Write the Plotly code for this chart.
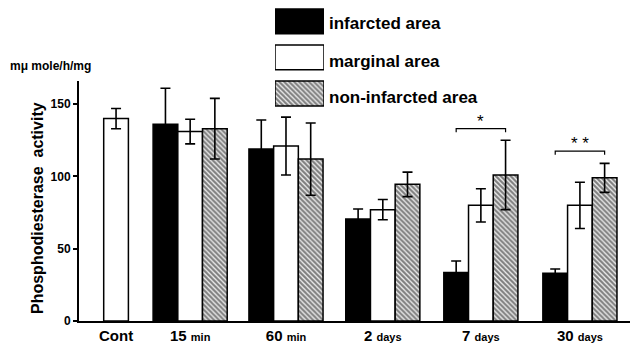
import plotly.graph_objects as go

# ---- data ----
groups = ["Cont", "15 min", "60 min", "2 days", "7 days", "30 days"]
tick_labels = [
    "<b>Cont</b>",
    "<b>15 <span style='font-size:11px'>min</span></b>",
    "<b>60 <span style='font-size:11px'>min</span></b>",
    "<b>2 <span style='font-size:11px'>days</span></b>",
    "<b>7 <span style='font-size:11px'>days</span></b>",
    "<b>30 <span style='font-size:11px'>days</span></b>",
]
infarcted = [None, 136, 119, 70.5, 33.5, 33]
infarcted_err = [None, 25, 20, 7, 8, 3]
marginal = [140, 131, 121, 77, 80, 80]
marginal_err = [7, 8.5, 20, 7, 11.5, 16]
noninfarcted = [None, 133, 112, 94.5, 101, 99]
noninfarcted_err = [None, 21, 25, 8.5, 24, 10]

series_names = ["infarcted area", "marginal area", "non-infarcted area"]

sig_groups = ["7 days", "30 days"]
sig_labels = ["*", "* *"]
sig_levels = [133, 117.5]

# ---- layout helpers (positions, not data) ----
group_pos = [1.5, 4.5, 8.38, 12.3, 16.27, 20.28]
BAR_W = 1.0
W, H = 630, 347
L, B = 79, 26
PLOT_W = W - L
PLOT_H = H - B


def px_x(px):
    return (px - L) / PLOT_W


def px_y(py):
    return (PLOT_H - py) / PLOT_H


FONT = "Liberation Sans, Arial, sans-serif"
hatch = dict(shape="\\", fgcolor="black", bgcolor="white", size=3.5, solidity=0.65)
styles = [
    dict(color="black", line=dict(color="black", width=1.5)),
    dict(color="white", line=dict(color="black", width=1.5)),
    dict(color="white", pattern=hatch, line=dict(color="black", width=1.5)),
]

fig = go.Figure()
values = [infarcted, marginal, noninfarcted]
errors = [infarcted_err, marginal_err, noninfarcted_err]
for i, (name, vals, errs, st) in enumerate(zip(series_names, values, errors, styles)):
    xs = [p + (i - 1) * BAR_W for p in group_pos]
    fig.add_trace(go.Bar(
        x=xs, y=vals, width=BAR_W, name=name, marker=st,
        error_y=dict(type="data", array=errs, visible=True, color="black",
                     thickness=1.6, width=5),
        showlegend=False, xaxis="x", yaxis="y",
    ))

# significance brackets
for g, lab, lvl in zip(sig_groups, sig_labels, sig_levels):
    c = group_pos[groups.index(g)]
    fig.add_trace(go.Scatter(
        x=[c - BAR_W, c - BAR_W, c + BAR_W, c + BAR_W],
        y=[lvl - 2.5, lvl, lvl, lvl - 2.5],
        mode="lines", line=dict(color="black", width=1.2),
        showlegend=False, hoverinfo="skip",
    ))
    fig.add_annotation(x=c, y=lvl - 3, text=lab, showarrow=False,
                       xref="x", yref="y", yanchor="bottom",
                       font=dict(family=FONT, size=17, color="black"))

# legend boxes drawn as bars on an auxiliary axis
for i, (name, st) in enumerate(zip(series_names, styles)):
    fig.add_trace(go.Bar(
        x=[1], y=[i], orientation="h", width=0.69, marker=st,
        xaxis="x2", yaxis="y2", showlegend=False, hoverinfo="skip",
    ))
    fig.add_annotation(
        x=px_x(327), y=px_y([23, 61, 97][i]), xref="paper", yref="paper",
        text="<b>" + name + "</b>", showarrow=False, xanchor="left", yanchor="middle",
        font=dict(family=FONT, size=17, color="black"),
    )

fig.add_annotation(
    x=px_x(8), y=px_y(66), xref="paper", yref="paper",
    text="<b>mμ mole/h/mg</b>", showarrow=False, xanchor="left", yanchor="middle",
    font=dict(family=FONT, size=12, color="black"),
)
fig.add_annotation(
    x=px_x(37), y=px_y(208), xref="paper", yref="paper",
    text="<b>Phosphodiesterase  activity</b>", showarrow=False, textangle=-90,
    xanchor="center", yanchor="middle",
    font=dict(family=FONT, size=16, color="black"),
)

fig.update_layout(
    width=W, height=H,
    margin=dict(l=L, r=0, t=0, b=B, pad=0),
    paper_bgcolor="white", plot_bgcolor="white",
    barmode="overlay",
    font=dict(family=FONT, color="black"),
    xaxis=dict(
        range=[0, PLOT_W / 24.7], tickvals=group_pos, ticktext=tick_labels,
        tickfont=dict(family=FONT, size=15, color="black"),
        showline=True, linecolor="black", linewidth=2, ticks="",
        showgrid=False, zeroline=False, fixedrange=True,
    ),
    yaxis=dict(
        domain=[0, 240 / PLOT_H], range=[0, 166],
        tickvals=[0, 50, 100, 150], ticktext=["<b>0</b>", "<b>50</b>", "<b>100</b>", "<b>150</b>"],
        tickfont=dict(family=FONT, size=12, color="black"),
        showline=True, linecolor="black", linewidth=2,
        ticks="outside", ticklen=4, tickwidth=1.5, tickcolor="black",
        showgrid=False, zeroline=False,
    ),
    xaxis2=dict(domain=[px_x(275), px_x(324)], range=[0, 1], visible=False,
                anchor="y2", fixedrange=True),
    yaxis2=dict(domain=[px_y(111.5), px_y(3.3)], range=[2.5, -0.5], visible=False,
                anchor="x2", fixedrange=True),
)

fig.write_html("out.html")
